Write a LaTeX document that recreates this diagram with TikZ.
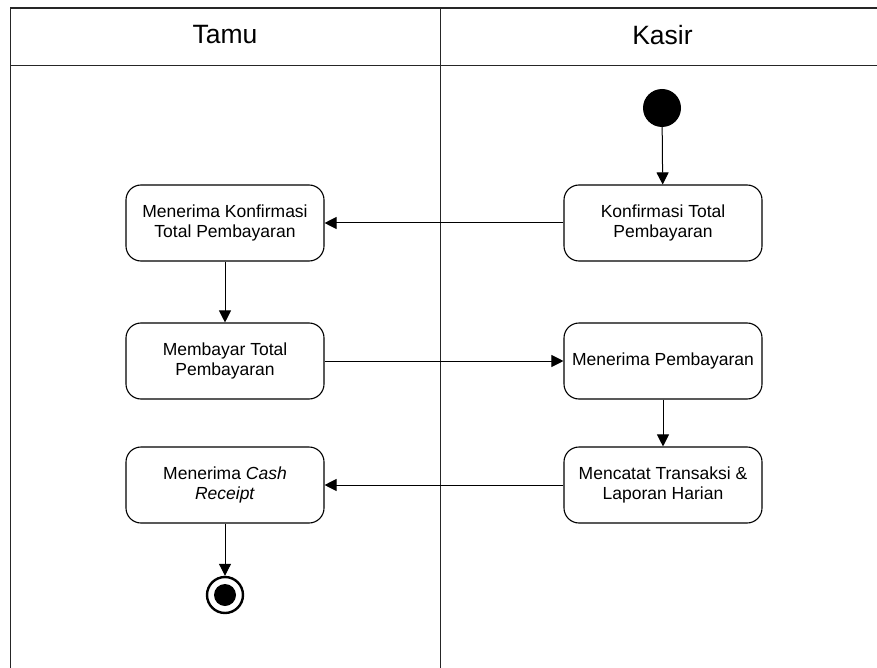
\documentclass[tikz,border=0pt]{standalone}
\usepackage{fontspec}
\setmainfont{Liberation Sans}
\usetikzlibrary{arrows.meta}
\begin{document}
\begin{tikzpicture}[x=1pt,y=-1pt,
  lane/.style={line width=1.6pt,draw=black!85},
  activity/.style={draw,line width=1.1pt,rectangle,rounded corners=15pt,
    minimum width=198pt,minimum height=76pt,align=center,
    font=\fontsize{17.5}{20}\selectfont,inner sep=2pt},
  lanetitle/.style={font=\fontsize{26.5}{30}\selectfont,inner sep=0pt},
  flow/.style={line width=1pt,-{Triangle[length=12pt,width=12pt]}},
  startnode/.style={circle,fill=black,minimum size=38pt,inner sep=0pt},
  endnode/.style={circle,draw,line width=2.4pt,minimum size=36pt,inner sep=0pt}
]
\useasboundingbox (0,0) rectangle (877,668);

% swimlane frame
\draw[lane] (877,8) -- (10.5,8) -- (10.5,668);
\draw[lane] (10.5,65.5) -- (877,65.5);
\draw[lane] (440.5,8) -- (440.5,668);

% lane titles
\node[lanetitle] (tamu) at (225,35) {Tamu};
\node[lanetitle] (kasir) at (662.5,35) {Kasir};

% activities
\node[startnode] (start) at (662,108) {};
\node[activity] (konf) at (663,223) {Konfirmasi Total\\Pembayaran};
\node[activity] (terimakonf) at (225,223) {Menerima Konfirmasi\\Total Pembayaran};
\node[activity] (bayar) at (225,361) {Membayar Total\\Pembayaran};
\node[activity] (terimabayar) at (663,361) {Menerima Pembayaran};
\node[activity] (catat) at (663,485) {Mencatat Transaksi \&\\Laporan Harian};
\node[activity] (receipt) at (225,485) {Menerima \textit{Cash}\\\textit{Receipt}};
\node[endnode] (final) at (225,595) {};
\fill (final.center) circle (11pt);

% control flow
\draw[flow] (start) -- (konf);
\draw[flow] (konf) -- (terimakonf);
\draw[flow] (terimakonf) -- (bayar);
\draw[flow] (bayar) -- (terimabayar);
\draw[flow] (terimabayar) -- (catat);
\draw[flow] (catat) -- (receipt);
\draw[flow] (receipt) -- (final);
\end{tikzpicture}
\end{document}
